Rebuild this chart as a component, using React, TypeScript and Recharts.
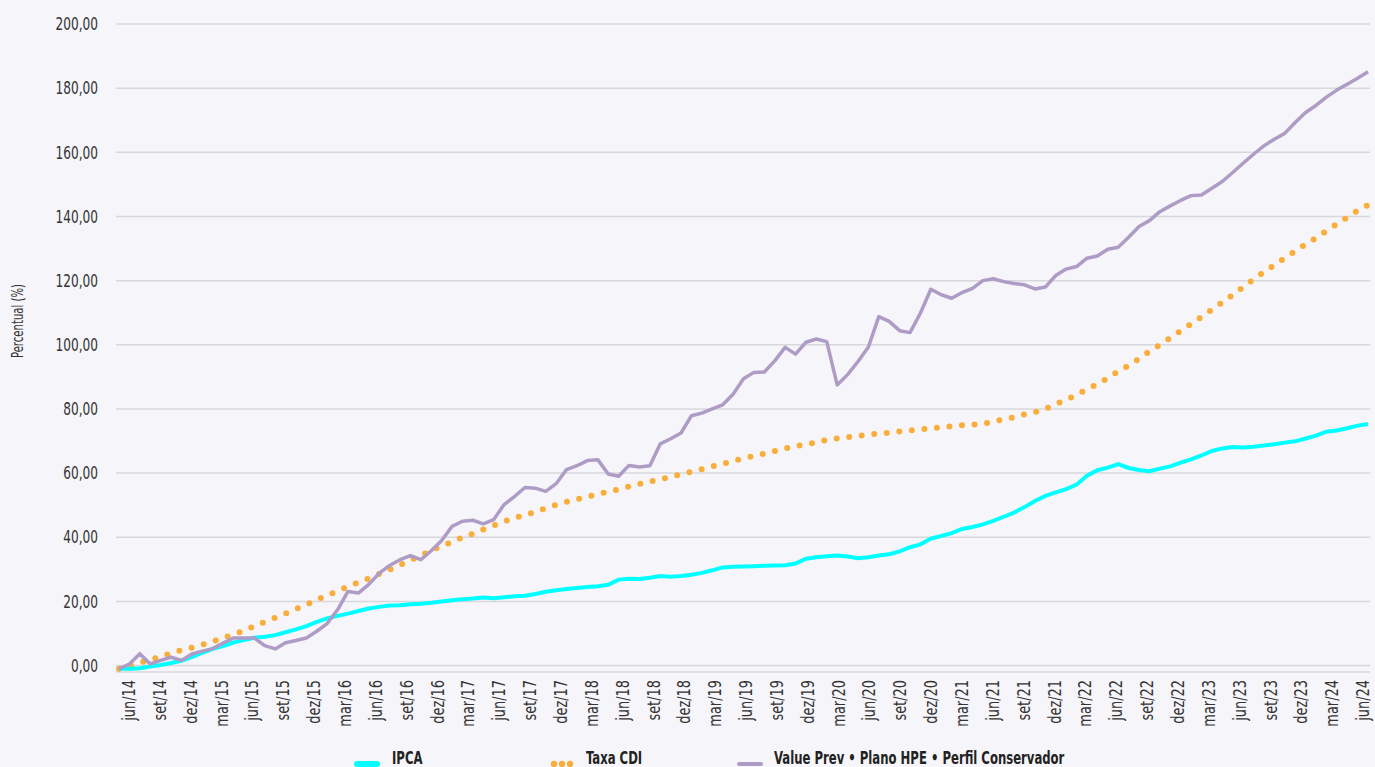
import { LineChart, Line, XAxis, YAxis, CartesianGrid } from 'recharts';

const FONT = "'Liberation Sans Narrow', 'DejaVu Sans Condensed', 'Arial Narrow', sans-serif";

const MONTHS = ['jan', 'fev', 'mar', 'abr', 'mai', 'jun', 'jul', 'ago', 'set', 'out', 'nov', 'dez'];
const START_YEAR = 2014;
const START_MONTH = 5; // jun

const yTicks = [0, 20, 40, 60, 80, 100, 120, 140, 160, 180, 200];

// IPCA acumulado (%)
const ipca = [
  -1.0, -1.0, -0.8, -0.3, 0.2, 0.8, 1.5, 2.6, 4.0, 5.2, 6.1, 7.2, 8.0, 8.7, 9.0, 9.5, 10.4, 11.3, 12.3, 13.6,
  14.7, 15.5, 16.2, 17.0, 17.8, 18.3, 18.7, 18.8, 19.1, 19.3, 19.6, 20.0, 20.4, 20.7, 20.9, 21.2, 21.0, 21.3, 21.6, 21.8,
  22.3, 23.0, 23.5, 23.9, 24.2, 24.5, 24.7, 25.2, 26.8, 27.1, 27.0, 27.4, 27.9, 27.7, 27.9, 28.3, 28.9, 29.7, 30.6, 30.8,
  30.9, 31.0, 31.1, 31.2, 31.3, 31.8, 33.3, 33.8, 34.1, 34.3, 34.0, 33.5, 33.8, 34.3, 34.7, 35.6, 36.9, 37.8, 39.6, 40.4,
  41.3, 42.6, 43.2, 44.0, 45.1, 46.4, 47.7, 49.4, 51.3, 52.9, 54.0, 55.0, 56.4, 59.2, 60.9, 61.7, 62.8, 61.6, 61.0, 60.6,
  61.4, 62.1, 63.3, 64.3, 65.5, 66.9, 67.7, 68.1, 68.0, 68.2, 68.6, 69.0, 69.5, 69.9, 70.8, 71.7, 72.9, 73.3, 74.0, 74.8,
  75.3,
];

// Taxa CDI acumulada (%)
const cdi = [
  -1.0, 0.0, 0.9, 1.8, 2.8, 3.8, 4.8, 5.6, 6.5, 7.5, 8.6, 9.7, 10.9, 12.3, 13.6, 14.9, 16.2, 17.6, 19.0, 20.5,
  21.9, 23.2, 24.6, 25.9, 27.2, 28.6, 29.9, 31.4, 32.9, 34.3, 35.8, 37.3, 38.5, 40.0, 41.1, 42.4, 43.7, 44.9, 46.0, 47.0,
  47.9, 49.1, 50.1, 51.0, 51.9, 52.6, 53.5, 54.2, 54.9, 55.8, 56.6, 57.4, 58.0, 58.8, 59.7, 60.4, 61.2, 62.1, 62.9, 63.8,
  64.6, 65.3, 66.1, 66.9, 67.7, 68.3, 69.0, 69.6, 70.3, 70.8, 71.2, 71.6, 72.0, 72.3, 72.6, 73.0, 73.3, 73.6, 73.9, 74.3,
  74.6, 74.9, 75.1, 75.4, 76.0, 76.8, 77.4, 78.3, 79.0, 80.0, 81.5, 82.9, 84.4, 86.1, 87.7, 89.6, 91.7, 93.5, 95.6, 97.9,
  100.0, 102.1, 104.3, 106.5, 108.7, 111.0, 113.2, 115.6, 118.0, 120.4, 122.7, 124.8, 127.0, 129.2, 131.3, 133.3, 135.5, 137.6, 139.7, 141.8,
  143.6,
];

// Value Prev • Plano HPE • Perfil Conservador (%)
const valuePrev = [
  -1.0, 0.5, 3.7, 0.5, 1.6, 2.6, 1.6, 3.6, 4.5, 5.3, 7.0, 8.6, 8.6, 8.6, 6.2, 5.2, 7.1, 7.8, 8.6, 10.7,
  13.1, 17.4, 23.1, 22.6, 25.3, 28.8, 31.2, 33.0, 34.3, 33.0, 35.8, 39.0, 43.4, 45.0, 45.3, 44.2, 45.5, 50.2, 52.7, 55.5,
  55.3, 54.3, 56.7, 61.1, 62.3, 63.9, 64.2, 59.7, 59.0, 62.4, 61.9, 62.3, 69.1, 70.7, 72.5, 77.9, 78.7, 80.0, 81.3, 84.6,
  89.4, 91.4, 91.5, 95.0, 99.2, 97.1, 100.8, 101.8, 101.0, 87.5, 90.7, 94.8, 99.3, 108.8, 107.3, 104.4, 103.8, 109.9, 117.3, 115.6,
  114.5, 116.3, 117.6, 120.0, 120.6, 119.7, 119.1, 118.7, 117.4, 118.0, 121.6, 123.6, 124.4, 127.0, 127.7, 129.8, 130.4, 133.5, 136.9, 138.7,
  141.5, 143.3, 145.0, 146.5, 146.7, 148.8, 150.9, 153.7, 156.6, 159.4, 162.0, 164.1, 165.9, 169.3, 172.4, 174.6, 177.2, 179.4, 181.2, 183.1,
  185.1,
];

const categories = ipca.map((_, i) => {
  const m = START_MONTH + i;
  const year = START_YEAR + Math.floor(m / 12);
  return `${MONTHS[m % 12]}/${String(year).slice(2)}`;
});

const data = categories.map((label, i) => ({
  label,
  ipca: ipca[i],
  cdi: cdi[i],
  valuePrev: valuePrev[i],
}));

const fmt = (v: number) => v.toFixed(2).replace('.', ',');

// rotated month labels, narrowed to look like the condensed font of the original
const XTick = ({ x, y, payload }: any) => {
  const tx = x + 10 - (15 * (x - 119)) / 1249;
  return (
    <text
      transform={`translate(${tx}, ${y}) rotate(-90) scale(0.8, 1)`}
      textAnchor="end"
      dominantBaseline="central"
      fill="#333"
      fontSize={18}
      fontFamily={FONT}
    >
      {payload.value}
    </text>
  );
};

const YTick = ({ x, y, payload }: any) => (
  <text
    transform={`translate(${x}, ${y}) scale(0.75, 1)`}
    textAnchor="end"
    dominantBaseline="central"
    fill="#333"
    fontSize={18}
    fontFamily={FONT}
  >
    {fmt(payload.value)}
  </text>
);

const legendItems = [
  { label: 'IPCA', left: 354, textLeft: 392, kind: 'cyan' },
  { label: 'Taxa CDI', left: 550, textLeft: 586, kind: 'dots' },
  { label: 'Value Prev • Plano HPE • Perfil Conservador', left: 737, textLeft: 774, kind: 'purple' },
];

const LegendIcon = ({ kind }: { kind: string }) => {
  if (kind === 'cyan') {
    return (
      <svg width={26} height={10}>
        <line x1={3} y1={5} x2={23} y2={5} stroke="#00ffff" strokeWidth={6} strokeLinecap="round" />
      </svg>
    );
  }
  if (kind === 'dots') {
    return (
      <svg width={26} height={10}>
        {[4, 12, 20].map((cx) => (
          <circle key={cx} cx={cx} cy={5} r={3.2} fill="#f9ae3b" />
        ))}
      </svg>
    );
  }
  return (
    <svg width={26} height={10}>
      <line x1={2} y1={5} x2={24} y2={5} stroke="#ae9cc6" strokeWidth={4} strokeLinecap="round" />
    </svg>
  );
};

export default function App() {
  return (
    <div
      style={{
        position: 'absolute',
        left: 0,
        top: 0,
        width: 1375,
        height: 767,
        background: '#f6f5f9',
        overflow: 'hidden',
        fontFamily: FONT,
      }}
    >
      <LineChart width={1375} height={767} data={data} margin={{ top: 24, right: 5, left: 0, bottom: 35 }}>
        <CartesianGrid vertical={false} stroke="#d8d7dc" strokeWidth={1.5} />
        <XAxis
          dataKey="label"
          interval={2}
          tickLine={false}
          axisLine={false}
          height={60}
          padding={{ left: 3, right: 2 }}
          tick={<XTick />}
        />
        <YAxis
          type="number"
          domain={[-2, 200]}
          ticks={yTicks}
          width={116}
          tickLine={false}
          axisLine={false}
          tickMargin={12}
          tick={<YTick />}
          label={{
            content: () => (
              <text
                transform="translate(18, 321) rotate(-90) scale(0.75, 1)"
                textAnchor="middle"
                dominantBaseline="central"
                fill="#333"
                fontSize={15}
                fontFamily={FONT}
              >
                Percentual (%)
              </text>
            ),
          }}
        />
        <Line
          type="linear"
          dataKey="cdi"
          stroke="#f9ae3b"
          strokeWidth={6}
          strokeDasharray="0 12.6"
          strokeLinecap="round"
          dot={false}
          isAnimationActive={false}
        />
        <Line
          type="linear"
          dataKey="ipca"
          stroke="#00ffff"
          strokeWidth={4}
          dot={false}
          isAnimationActive={false}
        />
        <Line
          type="linear"
          dataKey="valuePrev"
          stroke="#ae9cc6"
          strokeWidth={3.5}
          strokeLinejoin="round"
          dot={false}
          isAnimationActive={false}
        />
      </LineChart>
      {legendItems.map((it) => (
        <div key={it.label}>
          <div style={{ position: 'absolute', left: it.left, top: 754 }}>
            <LegendIcon kind={it.kind} />
          </div>
          <div
            style={{
              position: 'absolute',
              left: it.textLeft,
              top: 748,
              fontSize: 18,
              fontWeight: 'bold',
              color: '#222',
              whiteSpace: 'nowrap',
              lineHeight: '20px',
              transform: 'scaleX(0.72)',
              transformOrigin: 'left center',
            }}
          >
            {it.label}
          </div>
        </div>
      ))}
    </div>
  );
}
